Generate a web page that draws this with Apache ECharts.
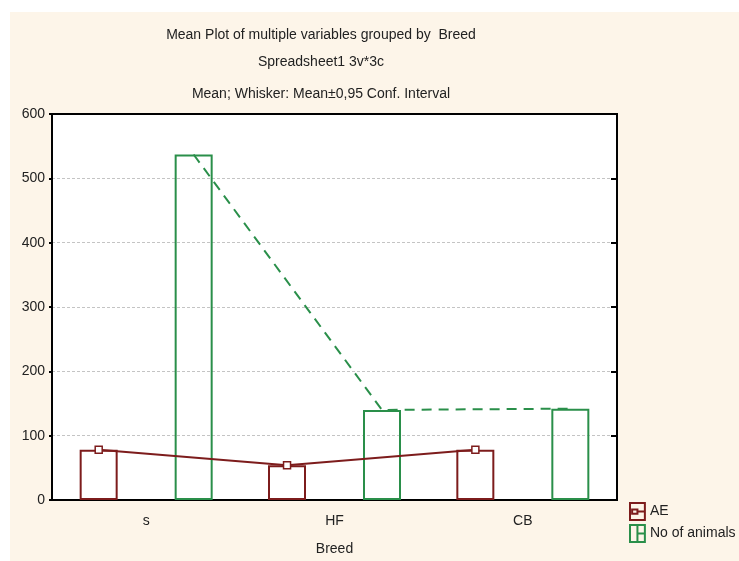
<!DOCTYPE html>
<html>
<head>
<meta charset="utf-8">
<script src="https://cdn.jsdelivr.net/npm/echarts@6/dist/echarts.min.js"></script>
<style>
  html, body { margin: 0; padding: 0; background: #fff; }
  #main { width: 739px; height: 561px; }
</style>
</head>
<body>
<div id="main"></div>
<script>
// data
const categories = ['s', 'HF', 'CB'];
const aeMeans = [78, 54, 78];
const animalMeans = [537, 140, 142];
const yMin = 0, yMax = 600, yStep = 100;
const titleLines = [
  'Mean Plot of multiple variables grouped by  Breed',
  'Spreadsheet1 3v*3c',
  'Mean; Whisker: Mean\u00b10,95 Conf. Interval'
];

const red = '#7d1c1c';
const green = '#2a8f4a';
const font = '"Liberation Sans", Arial, sans-serif';
const barShift = 0.252; // bar centre offset from category centre (category units)

const chart = echarts.init(document.getElementById('main'));

// line points sit on top of the bars, so put them on a hidden value axis
const aeLine = aeMeans.map((v, i) => [i + 0.5 - barShift, v]);
const animalLine = animalMeans.map((v, i) => [i + 0.5 + barShift, v]);

const option = {
  backgroundColor: '#fff',
  animation: false,
  textStyle: { fontFamily: font },
  graphic: [
    { type: 'rect', z: -10, shape: { x: 10, y: 12, width: 729, height: 549 }, style: { fill: '#fdf5e9' } },
    { type: 'text', x: 321, y: 35, style: { text: titleLines[0], font: '14px ' + font, fill: '#222', textAlign: 'center', textVerticalAlign: 'middle' } },
    { type: 'text', x: 321, y: 62, style: { text: titleLines[1], font: '14px ' + font, fill: '#222', textAlign: 'center', textVerticalAlign: 'middle' } },
    { type: 'text', x: 321, y: 94, style: { text: titleLines[2], font: '14px ' + font, fill: '#222', textAlign: 'center', textVerticalAlign: 'middle' } }
  ],
  grid: {
    left: 52, top: 114, right: 122, bottom: 58,
    show: true, backgroundColor: '#fff', borderColor: '#000', borderWidth: 2
  },
  legend: {
    orient: 'vertical',
    left: 624, top: 497,
    itemWidth: 15, itemHeight: 17, itemGap: 3,
    textStyle: { fontSize: 14, color: '#222' },
    data: [
      { name: 'AE', icon: 'path://M0,0H14V16H0Z M2,6H7V10H2Z M7,8H14',
        itemStyle: { color: 'rgba(0,0,0,0)', borderColor: red, borderWidth: 2 } },
      { name: 'No of animals', icon: 'path://M0,0H14V16H0Z M7,0V16 M7,8H14',
        itemStyle: { color: 'rgba(0,0,0,0)', borderColor: green, borderWidth: 2 } }
    ]
  },
  xAxis: [
    {
      type: 'category', data: categories, position: 'bottom',
      name: 'Breed', nameLocation: 'middle', nameGap: 42,
      nameTextStyle: { fontSize: 14, color: '#222' },
      axisLine: { lineStyle: { color: '#000', width: 2 } },
      axisTick: { alignWithLabel: true, inside: true, length: 5, lineStyle: { color: '#000', width: 2 } },
      axisLabel: { fontSize: 14, color: '#222', margin: 14 },
      splitLine: { show: false }
    },
    {
      type: 'category', data: categories, position: 'top',
      axisLine: { lineStyle: { color: '#000', width: 2 } },
      axisTick: { alignWithLabel: true, inside: true, length: 5, lineStyle: { color: '#000', width: 2 } },
      axisLabel: { show: false }
    },
    { type: 'value', min: 0, max: categories.length, show: false }
  ],
  yAxis: [
    {
      type: 'value', min: yMin, max: yMax, interval: yStep, position: 'left',
      axisLine: { show: true, lineStyle: { color: '#000', width: 2 } },
      axisTick: { show: true, length: 3, lineStyle: { color: '#000', width: 2 } },
      axisLabel: { fontSize: 14, color: '#222', margin: 7 },
      splitLine: {
        show: true, showMinLine: false, showMaxLine: false,
        lineStyle: { color: '#c4c4c4', type: [3, 2], width: 1 }
      }
    },
    {
      type: 'value', min: yMin, max: yMax, interval: yStep, position: 'right',
      axisLine: { show: true, lineStyle: { color: '#000', width: 2 } },
      axisTick: { show: true, inside: true, length: 6, lineStyle: { color: '#000', width: 2 } },
      axisLabel: { show: false },
      splitLine: { show: false }
    }
  ],
  series: [
    {
      name: 'AE', type: 'bar', xAxisIndex: 0, yAxisIndex: 0, data: aeMeans,
      barWidth: 38, barGap: '150%',
      itemStyle: { color: 'rgba(0,0,0,0)', borderColor: red, borderWidth: 2 }
    },
    {
      name: 'No of animals', type: 'bar', xAxisIndex: 0, yAxisIndex: 0, data: animalMeans,
      barWidth: 38, barGap: '150%',
      itemStyle: { color: 'rgba(0,0,0,0)', borderColor: green, borderWidth: 2 }
    },
    {
      name: 'AE', type: 'line', xAxisIndex: 2, yAxisIndex: 0, data: aeLine,
      symbol: 'rect', symbolSize: 7, z: 5,
      lineStyle: { color: red, width: 2 },
      itemStyle: { color: '#fff', borderColor: red, borderWidth: 1.5 }
    },
    {
      name: 'No of animals', type: 'line', xAxisIndex: 2, yAxisIndex: 0, data: animalLine,
      symbol: 'none', z: 5,
      lineStyle: { color: green, width: 2, type: [10, 7] }
    }
  ]
};

chart.setOption(option);
</script>
</body>
</html>
